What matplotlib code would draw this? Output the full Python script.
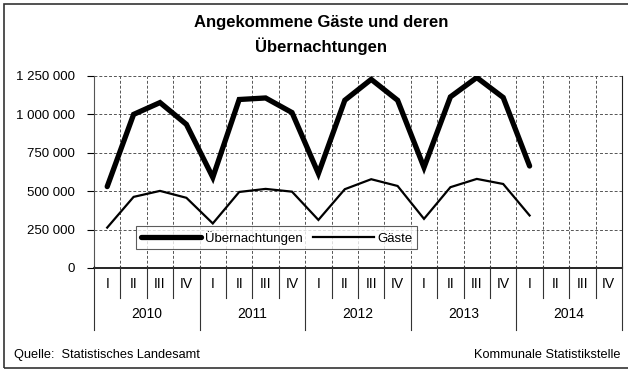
import matplotlib
matplotlib.use("Agg")
import matplotlib.pyplot as plt
from matplotlib.lines import Line2D
from matplotlib.patches import Rectangle
from matplotlib.ticker import FuncFormatter, FixedLocator

plt.rcParams['font.family'] = ['Liberation Sans', 'DejaVu Sans']

# Data: quarterly values 2010 Q1 .. 2014 Q1
years = ["2010", "2011", "2012", "2013", "2014"]
quarters = ["I", "II", "III", "IV"]
uebernachtungen = [530000, 1000000, 1077000, 935000,
                   590000, 1097000, 1107000, 1012000,
                   615000, 1092000, 1228000, 1092000,
                   655000, 1114000, 1240000, 1110000,
                   664000]
gaeste = [263000, 463000, 502000, 457000,
          290000, 495000, 515000, 497000,
          313000, 513000, 578000, 534000,
          320000, 526000, 580000, 547000,
          342000]
y_ticks = [0, 250000, 500000, 750000, 1000000, 1250000]

W, H = 628, 374
fig = plt.figure(figsize=(W / 100, H / 100), dpi=100)

def fx(px):
    return px / W

def fy(py):
    return 1 - py / H

# outer frame
fig.add_artist(Rectangle((fx(4), fy(368)), fx(640) - fx(4), fy(4) - fy(368),
                         transform=fig.transFigure, fill=False,
                         edgecolor="#333333", linewidth=1.2))

left, right, top, bottom = 94, 622, 76, 268
ax = fig.add_axes([fx(left), fy(bottom), fx(right) - fx(left), fy(top) - fy(bottom)])

n_q = len(years) * len(quarters)
x = list(range(len(uebernachtungen)))

ax.set_xlim(-0.5, n_q - 0.5)
ax.set_ylim(0, 1250000)

# grid
for k in range(n_q - 1):
    ax.axvline(k + 0.5, color="#555555", linestyle=(0, (3, 2)), linewidth=0.7, zorder=1)
for v in y_ticks[1:]:
    ax.axhline(v, color="#555555", linestyle=(0, (3, 2)), linewidth=0.7, zorder=1)

l1, = ax.plot(x, uebernachtungen, color="black", linewidth=3.8,
              solid_capstyle="round", solid_joinstyle="miter", zorder=3,
              label="Übernachtungen")
l2, = ax.plot(x, gaeste, color="black", linewidth=1.6,
              solid_joinstyle="miter", zorder=3, label="Gäste")

ax.yaxis.set_major_locator(FixedLocator(y_ticks))
ax.yaxis.set_major_formatter(FuncFormatter(lambda v, p: f"{int(v):,}".replace(",", " ")))
ax.tick_params(axis="y", length=5, width=0.8, labelsize=9.5, pad=9, colors="black")
ax.set_xticks([])

ax.spines["top"].set_visible(False)
ax.spines["left"].set_color("#555555")
ax.spines["right"].set_color("#222222")
ax.spines["bottom"].set_color("black")
ax.spines["bottom"].set_linewidth(1.2)

leg = ax.legend(handles=[l1, l2], loc="upper left", ncol=2,
                bbox_to_anchor=((136 - left) / (right - left), (bottom - 226) / (bottom - top)),
                bbox_transform=ax.transAxes,
                frameon=True, fancybox=False, fontsize=9.5, handlelength=4.6,
                handletextpad=0.25, columnspacing=0.8, borderpad=0.35,
                borderaxespad=0)
leg.get_frame().set_edgecolor("#333333")
leg.get_frame().set_linewidth(0.8)
leg.set_zorder(5)

# category axis below the plot
q_w = (right - left) / n_q
for k in range(n_q + 1):
    xp = left + k * q_w
    yend = 330 if k % 4 == 0 else 298
    fig.add_artist(Line2D([fx(xp), fx(xp)], [fy(bottom - 2), fy(yend)],
                          transform=fig.transFigure, color="#333333", linewidth=0.8))
for k in range(n_q):
    xp = left + (k + 0.5) * q_w
    fig.text(fx(xp), fy(284), quarters[k % 4], ha="center", va="center", fontsize=10)
for i, yr in enumerate(years):
    xp = left + (i * 4 + 2) * q_w
    fig.text(fx(xp), fy(314), yr, ha="center", va="center", fontsize=10)

fig.text(fx(321), fy(35), "Angekommene Gäste und deren\nÜbernachtungen",
         ha="center", va="center", fontsize=12, fontweight="bold", linespacing=1.55)

fig.text(fx(14), fy(355), "Quelle:  Statistisches Landesamt", ha="left", va="center", fontsize=9.2)
fig.text(fx(620), fy(355), "Kommunale Statistikstelle", ha="right", va="center", fontsize=9.2)

fig.savefig("out.png", dpi=100)
